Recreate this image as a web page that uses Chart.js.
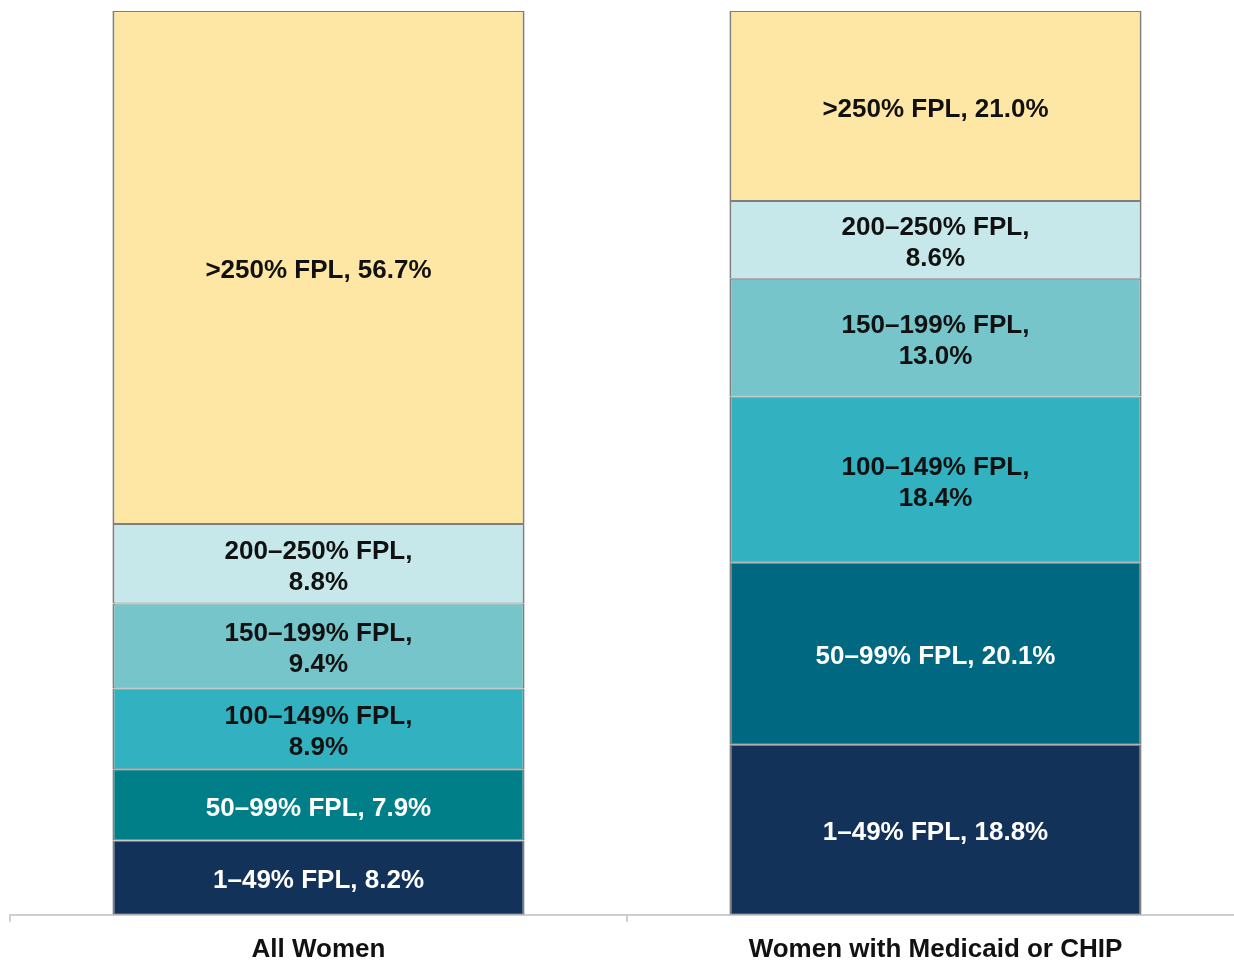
<!DOCTYPE html>
<html>
<head>
<meta charset="utf-8">
<script src="https://cdn.jsdelivr.net/npm/chart.js@4/dist/chart.umd.min.js"></script>
<style>
  html, body { margin: 0; padding: 0; background: #fff; overflow: hidden; }
  #wrap { width: 1244px; height: 960px; }
</style>
</head>
<body>
<div id="wrap"><canvas id="fplChart" width="1244" height="960"></canvas></div>
<script>
const categories = ['All Women', 'Women with Medicaid or CHIP'];
const seriesNames = ['1–49% FPL', '50–99% FPL', '100–149% FPL', '150–199% FPL', '200–250% FPL', '>250% FPL'];
const fpl1to49 = [8.2, 18.8];
const fpl50to99 = [7.9, 20.1];
const fpl100to149 = [8.9, 18.4];
const fpl150to199 = [9.4, 13.0];
const fpl200to250 = [8.8, 8.6];
const fplOver250 = [56.7, 21.0];
const wrapped = [false, false, true, true, true, false]; // label on two lines

const seriesValues = [fpl1to49, fpl50to99, fpl100to149, fpl150to199, fpl200to250, fplOver250];
const fills = [
    ['#13325A', '#13325A'],
    ['#007F88', '#006880'],
    ['#32B2C0', '#32B2C0'],
    ['#75C5CB', '#75C5CB'],
    ['#C6E8EA', '#C6E8EA'],
    ['#FEE6A4', '#FEE6A4']
];
const textColors = ['#ffffff', '#ffffff', '#111111', '#111111', '#111111', '#111111'];

const labelFont = 'bold 26px "Liberation Sans", Arial, sans-serif';

// draws the "name, value%" text in the middle of each segment
const segmentLabels = {
    id: 'segmentLabels',
    afterDatasetsDraw(chart) {
        const ctx = chart.ctx;
        ctx.save();
        ctx.font = labelFont;
        ctx.textAlign = 'center';
        ctx.textBaseline = 'middle';
        chart.data.datasets.forEach((ds, i) => {
            const meta = chart.getDatasetMeta(i);
            meta.data.forEach((bar, j) => {
                const v = ds.data[j];
                const cy = (bar.y + bar.base) / 2 + 3.5;
                ctx.fillStyle = textColors[i];
                const txt = v.toFixed(1) + '%';
                if (wrapped[i]) {
                    ctx.fillText(ds.label + ',', bar.x, cy - 15.5);
                    ctx.fillText(txt, bar.x, cy + 15.5);
                } else {
                    ctx.fillText(ds.label + ', ' + txt, bar.x, cy);
                }
            });
        });
        ctx.restore();
    }
};

const ctx = document.getElementById('fplChart').getContext('2d');

new Chart(ctx, {
    type: 'bar',
    data: {
        labels: categories,
        datasets: seriesNames.map((name, i) => ({
            label: name,
            data: seriesValues[i],
            backgroundColor: fills[i],
            borderColor: '#7F7F7F',
            borderWidth: { left: 2, right: 2, top: 1, bottom: 1 },
            borderSkipped: false,
            categoryPercentage: 1.0,
            barPercentage: 0.668
        }))
    },
    options: {
        responsive: false,
        animation: false,
        layout: { padding: { left: 10, right: 0, top: 11, bottom: -17 } },
        plugins: {
            legend: { display: false },
            tooltip: { enabled: false }
        },
        scales: {
            x: {
                stacked: true,
                grid: {
                    drawOnChartArea: false,
                    drawTicks: true,
                    tickLength: 7,
                    color: '#CFCFCF',
                    lineWidth: 2
                },
                border: { color: '#CFCFCF', width: 2 },
                ticks: {
                    color: '#111111',
                    padding: 12,
                    font: { size: 26, weight: 'bold', family: '"Liberation Sans", Arial, sans-serif' }
                }
            },
            y: {
                stacked: true,
                display: false,
                min: 0,
                max: 99.9
            }
        }
    },
    plugins: [segmentLabels]
});
</script>
</body>
</html>
